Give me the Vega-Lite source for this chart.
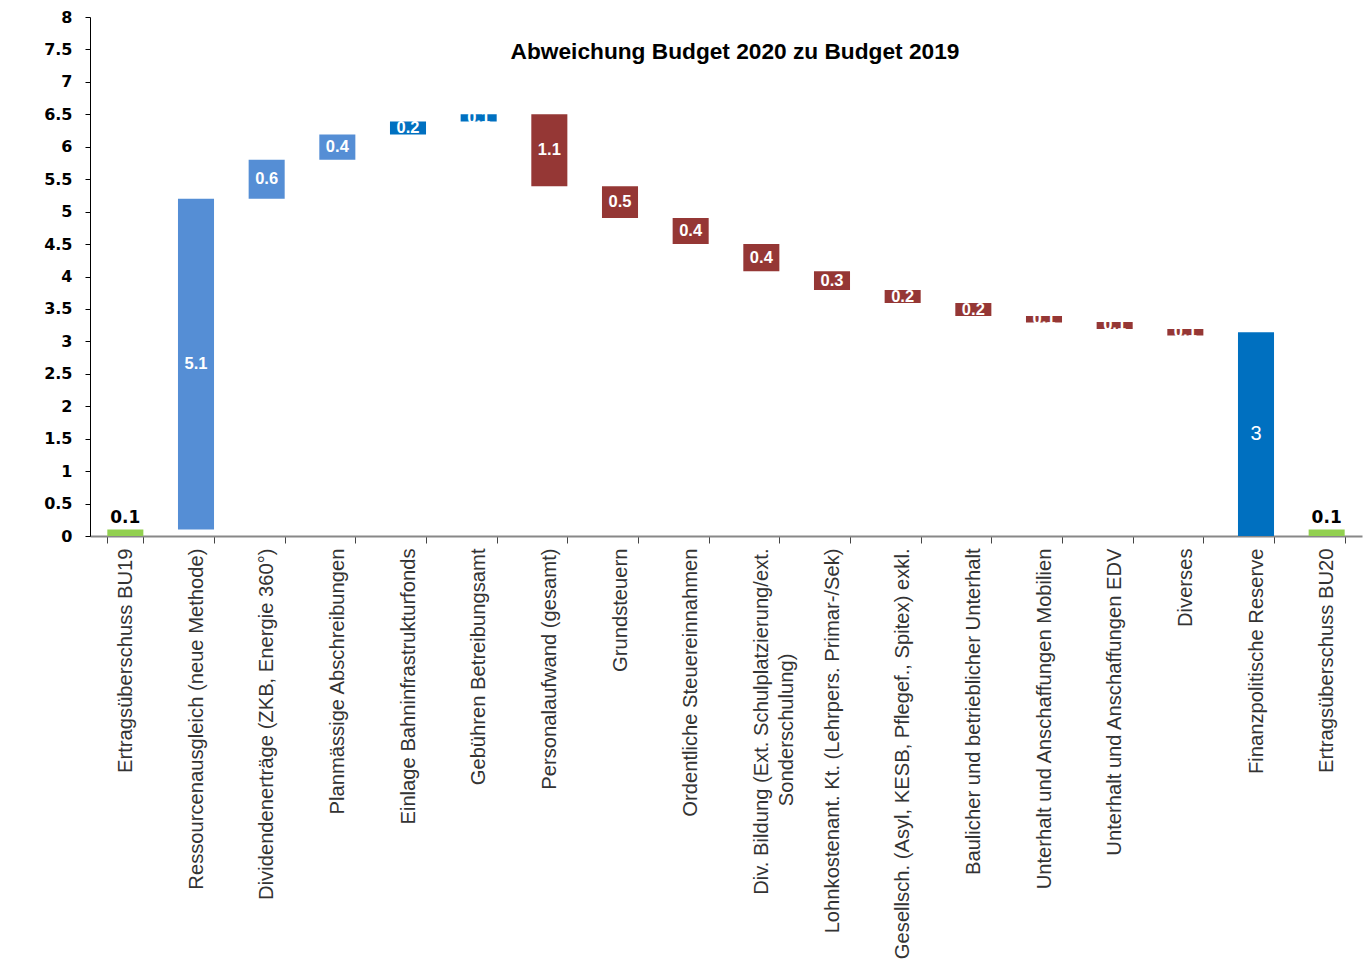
{
  "$schema": "https://vega.github.io/schema/vega-lite/v6.json",
  "width": 1272,
  "height": 519,
  "autosize": {"type": "none"},
  "padding": {"left": 90, "top": 17, "right": 2, "bottom": 425},
  "background": "white",
  "title": {
    "text": "Abweichung Budget 2020 zu Budget 2019",
    "font": "Liberation Sans",
    "fontSize": 22.7,
    "fontWeight": "bold",
    "color": "#000000",
    "offset": -55,
    "dx": 9
  },
  "config": {
    "view": {"stroke": null},
    "axisY": {
      "title": null,
      "grid": false,
      "labelOverlap": false,
      "labelFlush": false,
      "labelFont": "DejaVu Sans",
      "labelFontWeight": "bold",
      "labelFontSize": 16,
      "labelColor": "#000000",
      "labelPadding": 13,
      "tickSize": 5,
      "tickColor": "#000000",
      "domainColor": "#000000"
    }
  },
  "data": {
    "values": [
      {"cat": "Ertragsüberschuss BU19", "start": 0, "end": 0.1, "kind": "total", "lab": "0.1"},
      {"cat": "Ressourcenausgleich (neue Methode)", "start": 0.1, "end": 5.2, "kind": "plus", "lab": "5.1"},
      {"cat": "Dividendenerträge (ZKB, Energie 360°)", "start": 5.2, "end": 5.8, "kind": "plus", "lab": "0.6"},
      {"cat": "Planmässige Abschreibungen", "start": 5.8, "end": 6.19, "kind": "plus", "lab": "0.4"},
      {"cat": "Einlage Bahninfrastrukturfonds", "start": 6.19, "end": 6.39, "kind": "plus2", "lab": "0.2"},
      {"cat": "Gebühren Betreibungsamt", "start": 6.39, "end": 6.5, "kind": "plus2", "lab": "0.1"},
      {"cat": "Personalaufwand (gesamt)", "start": 6.5, "end": 5.39, "kind": "minus", "lab": "1.1"},
      {"cat": "Grundsteuern", "start": 5.39, "end": 4.9, "kind": "minus", "lab": "0.5"},
      {"cat": "Ordentliche Steuereinnahmen", "start": 4.9, "end": 4.5, "kind": "minus", "lab": "0.4"},
      {"cat": "Div. Bildung (Ext. Schulplatzierung/ext. Sonderschulung)", "start": 4.5, "end": 4.08, "kind": "minus", "lab": "0.4"},
      {"cat": "Lohnkostenant. Kt. (Lehrpers. Primar-/Sek)", "start": 4.08, "end": 3.79, "kind": "minus", "lab": "0.3"},
      {"cat": "Gesellsch. (Asyl, KESB, Pflegef., Spitex) exkl.", "start": 3.79, "end": 3.59, "kind": "minus", "lab": "0.2"},
      {"cat": "Baulicher und betrieblicher Unterhalt", "start": 3.59, "end": 3.39, "kind": "minus", "lab": "0.2"},
      {"cat": "Unterhalt und Anschaffungen Mobilien", "start": 3.39, "end": 3.29, "kind": "minus", "lab": "0.1"},
      {"cat": "Unterhalt und Anschaffungen EDV", "start": 3.3, "end": 3.19, "kind": "minus", "lab": "0.1"},
      {"cat": "Diverses", "start": 3.19, "end": 3.09, "kind": "minus", "lab": "0.1"},
      {"cat": "Finanzpolitische Reserve", "start": 3.14, "end": 0, "kind": "reserve", "lab": "3"},
      {"cat": "Ertragsüberschuss BU20", "start": 0, "end": 0.1, "kind": "total", "lab": "0.1"}
    ]
  },
  "encoding": {
    "x": {
      "field": "cat",
      "type": "nominal",
      "sort": null,
      "scale": {"paddingInner": 0.49, "paddingOuter": 0.245},
      "axis": {
        "title": null,
        "labelAngle": -90,
        "labelAlign": "right",
        "labelBaseline": "middle",
        "labelPadding": 5,
        "labelFont": "Liberation Sans",
        "labelFontSize": 20.2,
        "labelColor": "#333333",
        "labelLimit": 600,
        "labelOverlap": false,
        "labelLineHeight": 25,
        "labelExpr": "datum.label == 'Div. Bildung (Ext. Schulplatzierung/ext. Sonderschulung)' ? ['Div. Bildung (Ext. Schulplatzierung/ext.', 'Sonderschulung)\u2800\u2800\u2800\u2800\u2800\u2800\u2800'] : datum.label",
        "tickBand": "extent",
        "tickSize": 7,
        "tickColor": "#444444",
        "domainColor": "#888888",
        "domainWidth": 2
      }
    }
  },
  "layer": [
    {
      "mark": {"type": "bar"},
      "encoding": {
        "y": {
          "field": "start",
          "type": "quantitative",
          "scale": {"domain": [0, 8], "nice": false},
          "axis": {
            "values": [0, 0.5, 1, 1.5, 2, 2.5, 3, 3.5, 4, 4.5, 5, 5.5, 6, 6.5, 7, 7.5, 8],
            "format": "~g"
          }
        },
        "y2": {"field": "end"},
        "color": {
          "field": "kind",
          "type": "nominal",
          "scale": {
            "domain": ["total", "plus", "plus2", "minus", "reserve"],
            "range": ["#92D050", "#558ED5", "#0070C0", "#953735", "#0070C0"]
          },
          "legend": null
        }
      }
    },
    {
      "transform": [
        {"filter": "datum.kind == 'plus' || datum.kind == 'plus2' || datum.kind == 'minus'"},
        {"fold": ["start", "end"], "as": ["k", "v"]},
        {"aggregate": [{"op": "mean", "field": "v", "as": "mid"}], "groupby": ["cat", "lab", "kind"]}
      ],
      "mark": {"type": "text", "font": "Liberation Sans", "fontWeight": "bold", "fontSize": 16.5, "color": "#ffffff", "baseline": "middle", "align": "center"},
      "encoding": {
        "y": {
          "field": "mid",
          "type": "quantitative",
          "axis": {
            "values": [0, 0.5, 1, 1.5, 2, 2.5, 3, 3.5, 4, 4.5, 5, 5.5, 6, 6.5, 7, 7.5, 8],
            "format": "~g"
          }
        },
        "text": {"field": "lab"}
      }
    },
    {
      "transform": [
        {"filter": "datum.kind == 'reserve'"},
        {"fold": ["start", "end"], "as": ["k", "v"]},
        {"aggregate": [{"op": "mean", "field": "v", "as": "mid"}], "groupby": ["cat", "lab", "kind"]}
      ],
      "mark": {"type": "text", "font": "Liberation Sans", "fontSize": 20, "color": "#ffffff", "baseline": "middle", "align": "center"},
      "encoding": {
        "y": {
          "field": "mid",
          "type": "quantitative",
          "axis": {
            "values": [0, 0.5, 1, 1.5, 2, 2.5, 3, 3.5, 4, 4.5, 5, 5.5, 6, 6.5, 7, 7.5, 8],
            "format": "~g"
          }
        },
        "text": {"field": "lab"}
      }
    },
    {
      "transform": [{"filter": "datum.kind == 'total'"}],
      "mark": {"type": "text", "font": "DejaVu Sans", "fontWeight": "bold", "fontSize": 17, "color": "#000000", "baseline": "bottom", "align": "center", "dy": -3},
      "encoding": {
        "y": {
          "field": "end",
          "type": "quantitative",
          "axis": {
            "values": [0, 0.5, 1, 1.5, 2, 2.5, 3, 3.5, 4, 4.5, 5, 5.5, 6, 6.5, 7, 7.5, 8],
            "format": "~g"
          }
        },
        "text": {"field": "lab"}
      }
    }
  ]
}
